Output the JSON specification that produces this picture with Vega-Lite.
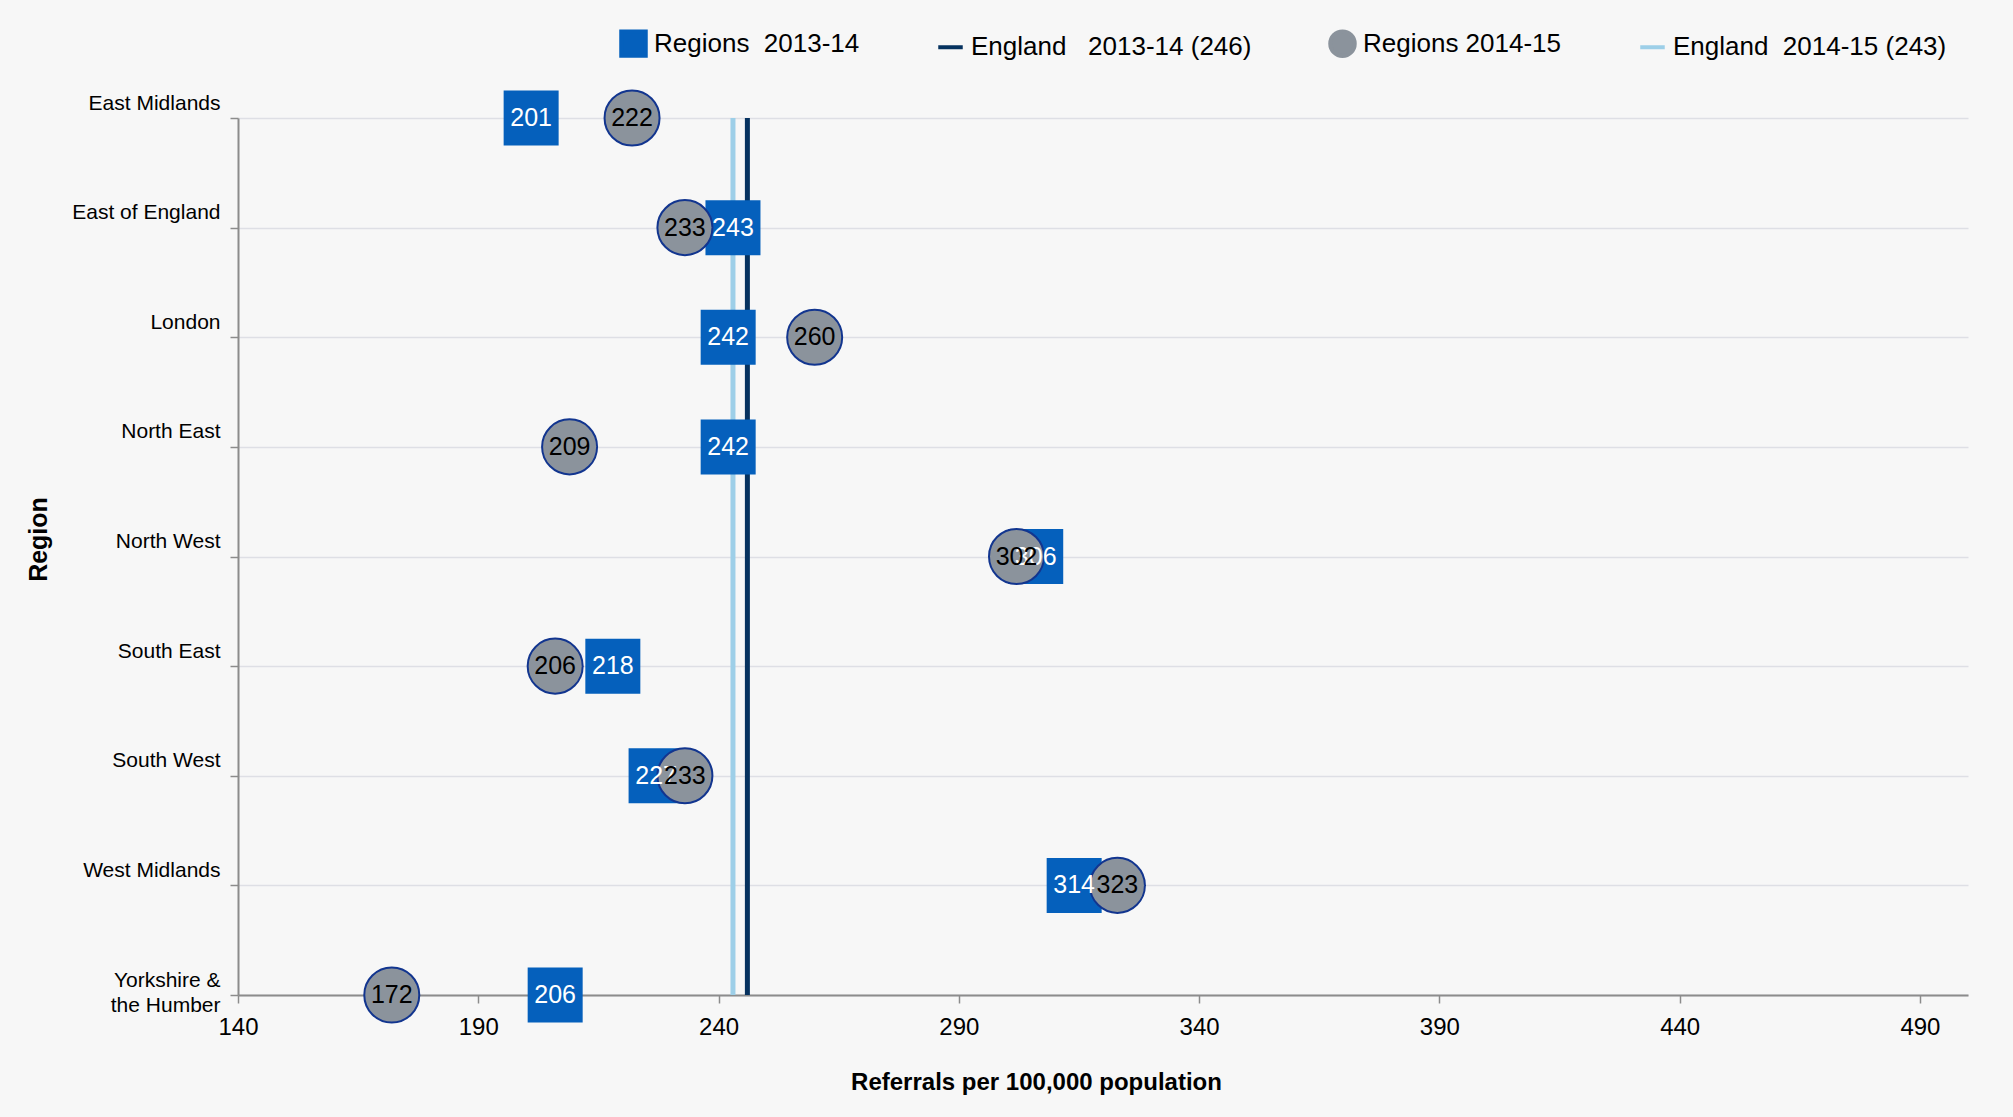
{
  "$schema": "https://vega.github.io/schema/vega-lite/v6.json",
  "width": 1730,
  "height": 877,
  "autosize": {"type": "none"},
  "padding": {"left": 238, "top": 118, "right": 45, "bottom": 122},
  "background": "#F7F7F7",
  "config": {"view": {"stroke": null}, "font": "Liberation Sans"},
  "datasets": {
    "regions": [
      {"region": "East Midlands", "year": "2013-14", "series": "Regions\u00a0 2013-14", "value": 201},
      {"region": "East of England", "year": "2013-14", "series": "Regions\u00a0 2013-14", "value": 243},
      {"region": "London", "year": "2013-14", "series": "Regions\u00a0 2013-14", "value": 242},
      {"region": "North East", "year": "2013-14", "series": "Regions\u00a0 2013-14", "value": 242},
      {"region": "North West", "year": "2013-14", "series": "Regions\u00a0 2013-14", "value": 306},
      {"region": "South East", "year": "2013-14", "series": "Regions\u00a0 2013-14", "value": 218},
      {"region": "South West", "year": "2013-14", "series": "Regions\u00a0 2013-14", "value": 227},
      {"region": "West Midlands", "year": "2013-14", "series": "Regions\u00a0 2013-14", "value": 314},
      {"region": "Yorkshire & the Humber", "year": "2013-14", "series": "Regions\u00a0 2013-14", "value": 206},
      {"region": "East Midlands", "year": "2014-15", "series": "Regions 2014-15", "value": 222},
      {"region": "East of England", "year": "2014-15", "series": "Regions 2014-15", "value": 233},
      {"region": "London", "year": "2014-15", "series": "Regions 2014-15", "value": 260},
      {"region": "North East", "year": "2014-15", "series": "Regions 2014-15", "value": 209},
      {"region": "North West", "year": "2014-15", "series": "Regions 2014-15", "value": 302},
      {"region": "South East", "year": "2014-15", "series": "Regions 2014-15", "value": 206},
      {"region": "South West", "year": "2014-15", "series": "Regions 2014-15", "value": 233},
      {"region": "West Midlands", "year": "2014-15", "series": "Regions 2014-15", "value": 323},
      {"region": "Yorkshire & the Humber", "year": "2014-15", "series": "Regions 2014-15", "value": 172}
    ],
    "england": [
      {"series": "England\u00a0\u00a0 2013-14 (246)", "value": 246},
      {"series": "England\u00a0 2014-15 (243)", "value": 243}
    ]
  },
  "encoding": {
    "x": {
      "field": "value",
      "type": "quantitative",
      "scale": {"domain": [140, 500], "nice": false, "zero": false},
      "axis": {
        "values": [140, 190, 240, 290, 340, 390, 440, 490],
        "grid": false,
        "domainColor": "#8C8C8C",
        "domainWidth": 2,
        "tickColor": "#8C8C8C",
        "tickSize": 8,
        "tickWidth": 1.5,
        "labelFontSize": 24,
        "labelColor": "#000000",
        "labelPadding": 12,
        "labelFlush": false,
        "title": "Referrals per 100,000 population",
        "titleFontSize": 24,
        "titleFontWeight": "bold",
        "titleColor": "#000000",
        "titleX": 798,
        "titleY": 87,
        "titleBaseline": "middle",
        "titleAlign": "center"
      }
    },
    "color": {
      "field": "series",
      "type": "nominal",
      "scale": {
        "domain": ["Regions\u00a0 2013-14", "England\u00a0\u00a0 2013-14 (246)", "Regions 2014-15", "England\u00a0 2014-15 (243)"],
        "range": ["#0560BC", "#06325F", "#8B939C", "#9DCFE8"]
      },
      "legend": {
        "orient": "none",
        "legendX": 381,
        "legendY": -89,
        "direction": "horizontal",
        "title": null,
        "padding": 0,
        "labelFontSize": 26,
        "labelColor": "#000000",
        "labelLimit": 500,
        "symbolSize": 600,
        "symbolStrokeWidth": 4,
        "symbolOpacity": 1,
        "labelOffset": 6,
        "columnPadding": 70
      }
    }
  },
  "layer": [
    {
      "data": {"name": "england"},
      "mark": {"type": "rule", "strokeWidth": 5},
      "encoding": {}
    },
    {
      "data": {"name": "regions"},
      "encoding": {
        "shape": {
          "field": "series",
          "type": "nominal",
          "scale": {
            "domain": ["Regions\u00a0 2013-14", "England\u00a0\u00a0 2013-14 (246)", "Regions 2014-15", "England\u00a0 2014-15 (243)"],
            "range": ["square", "stroke", "circle", "stroke"]
          },
          "legend": {
            "orient": "none",
            "legendX": 381,
            "legendY": -89,
            "direction": "horizontal",
            "title": null,
            "padding": 0,
            "labelFontSize": 26,
            "labelColor": "#000000",
            "labelLimit": 500,
            "symbolSize": 600,
            "symbolStrokeWidth": 4,
            "symbolOpacity": 1,
            "labelOffset": 6,
            "columnPadding": 70
          }
        },
        "y": {
          "field": "region",
          "type": "nominal",
          "sort": null,
          "scale": {
            "type": "point",
            "padding": 0,
            "domain": ["East Midlands", "East of England", "London", "North East", "North West", "South East", "South West", "West Midlands", "Yorkshire & the Humber"]
          },
          "axis": {
            "grid": true,
            "gridColor": "#DEDFE5",
            "gridWidth": 1.5,
            "domainColor": "#8C8C8C",
            "domainWidth": 2,
            "tickColor": "#8C8C8C",
            "tickSize": 8,
            "tickWidth": 1.5,
            "labelFontSize": 21,
            "labelColor": "#000000",
            "labelPadding": 10,
            "labelOffset": -15,
            "labelLineHeight": 25,
            "labelExpr": "datum.value == 'Yorkshire & the Humber' ? ['Yorkshire &', 'the Humber'] : datum.label",
            "title": "Region",
            "titleFontSize": 25,
            "titleFontWeight": "bold",
            "titleColor": "#000000",
            "titleAngle": 270,
            "titleX": -200,
            "titleY": 421,
            "titleBaseline": "middle",
            "titleAlign": "center"
          }
        }
      },
      "layer": [
        {
          "transform": [{"filter": "datum.year == '2013-14'"}],
          "mark": {"type": "point", "size": 3025, "opacity": 1, "filled": true}
        },
        {
          "transform": [{"filter": "datum.year == '2014-15'"}],
          "mark": {"type": "point", "size": 3025, "opacity": 1, "filled": true, "stroke": "#12358F", "strokeWidth": 2}
        },
        {
          "transform": [{"filter": "datum.year == '2013-14'"}],
          "mark": {"type": "text", "fontSize": 25, "baseline": "middle", "align": "center"},
          "encoding": {"text": {"field": "value", "type": "quantitative"}, "color": {"value": "#FFFFFF"}, "shape": null}
        },
        {
          "transform": [{"filter": "datum.year == '2014-15'"}],
          "mark": {"type": "text", "fontSize": 25, "baseline": "middle", "align": "center"},
          "encoding": {"text": {"field": "value", "type": "quantitative"}, "color": {"value": "#000000"}, "shape": null}
        }
      ]
    }
  ]
}
